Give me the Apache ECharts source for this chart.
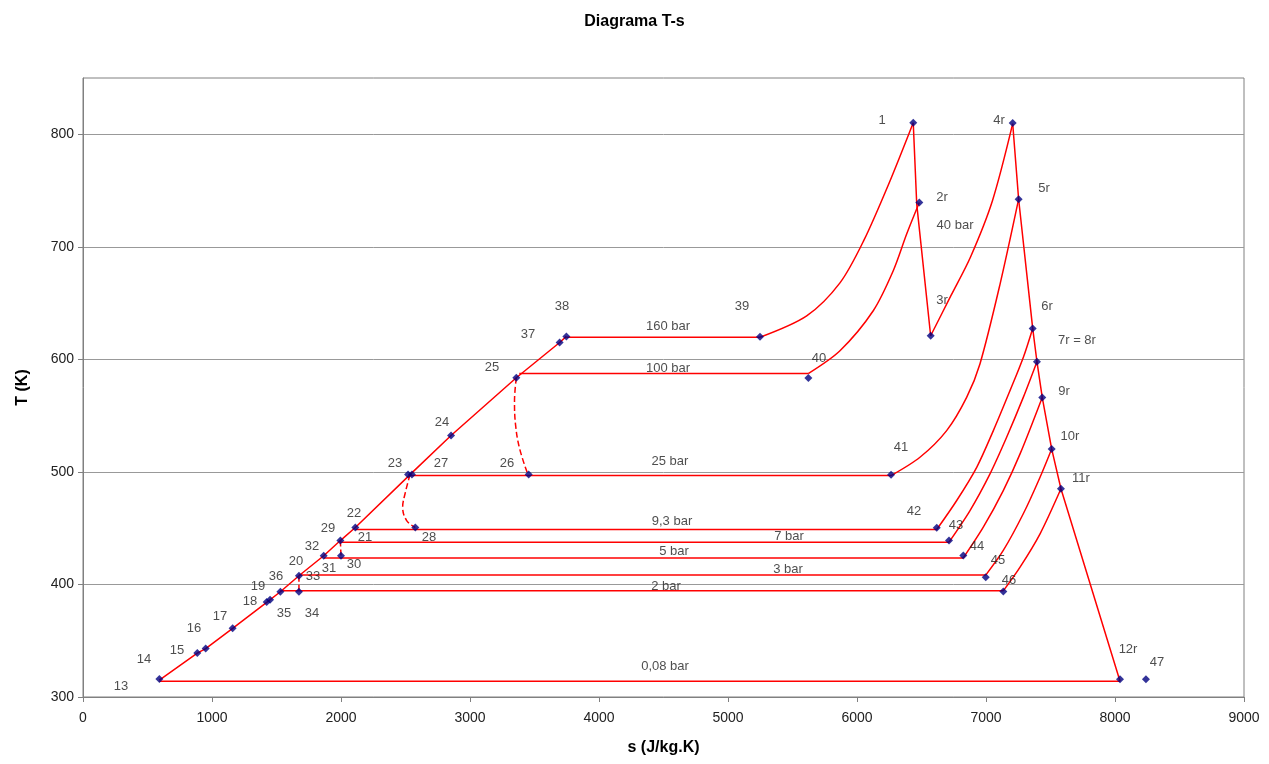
<!DOCTYPE html>
<html>
<head>
<meta charset="utf-8">
<script src="https://cdn.jsdelivr.net/npm/echarts@6/dist/echarts.min.js"></script>
<style>
html,body{margin:0;padding:0;background:#fff;}
#chart{width:1269px;height:764px;}
</style>
</head>
<body>
<div id="chart"></div>
<script>
// ---- Data (s in J/kg.K, T in K) ----
const xTicks = [0,1000,2000,3000,4000,5000,6000,7000,8000,9000];
const yTicks = [300,400,500,600,700,800];

// saturated / compressed liquid line 13 -> 38
const liquidLine = [[592,315],[886,339],[951,343],[1160,361],[1424,384],[1530,393.5],[1674,407.7],[1866,425.5],[1995,439],[2111,450.6],[2535,497.6],[2853,532.3],[3359,583.7],[3695,615],[3747,620.4]];

// isobars (horizontal parts)
const bar160 = [[3747,619.7],[5248,619.7]];
const bar100 = [[3382,587.4],[5622,587.4]];
const bar25 = [[2535,496.7],[6264,496.7]];
const bar9_3 = [[2111,448.8],[6618,448.8]];
const bar7 = [[1995,437.6],[6713,437.6]];
const bar5 = [[1866,423.6],[6824,423.6]];
const bar3 = [[1674,408.3],[6998,408.3]];
const bar2 = [[1530,394.3],[7134,394.3]];
const bar008 = [[592,314],[8039,314]];

// superheating curves
const curve39to1 = [[5248,619.7],[5610,638.7],[5868,668],[6050,705],[6250,757],[6436,810.3]];
const curve40to2r = [[5622,587.4],[5868,607.7],[6126,643.2],[6281,678.7],[6385,711.3],[6483,739.3]];
const curve3rto4r = [[6571,621],[6730,657],[6880,691],[7050,741],[7207,809.4]];
const curve41to5r = [[6264,496.7],[6488,513],[6695,536.7],[6850,566.2],[6953,595.9],[7109,666.9],[7253,742.3]];
const curve42to6r = [[6618,448.8],[6773,474.6],[6928,504.1],[7057,536.7],[7186,572.2],[7289,601.7],[7362,627.5]];
const curve43to7r = [[6713,437.6],[6876,465.7],[7031,498.3],[7160,530.8],[7289,566.2],[7395,597.9]];
const curve44to9r = [[6824,423.6],[6979,450.9],[7134,483.4],[7264,516],[7436,566.2]];
const curve45to10r = [[6998,408.3],[7134,430.2],[7289,462.8],[7419,495.3],[7509,520.4]];
const curve46to11r = [[7134,394.3],[7264,415.4],[7419,445],[7581,485]];

// expansion lines
const expansionHP = [[6436,810.3],[6463,738],[6571,621]];
const expansionLP = [[7207,809.4],[7253,742.3],[7362,627.5],[7395,597.9],[7436,566.2],[7509,520.4],[7581,485],[8039,314]];

// dashed connections
const dash25to26 = [[3359,583.5],[3345,563],[3353,542],[3384,521],[3449,497.6]];
const dash23to28 = [[2535,497.6],[2496,480.4],[2478,468.6],[2509,456.8],[2576,450.6]];
const dash29to30 = [[1995,439],[2000,425.5]];
const dash33to34 = [[1674,407.7],[1674,393.5]];

// state points (markers)
const statePoints = [[6436,810.3],[7207,810],[6483,739.3],[7253,742.3],[6571,621],[7362,627.5],[7395,597.9],[7436,566.2],[7509,520.4],[7581,485],[8039,315.7],[8240,315.7],[6264,497.5],[6618,450.3],[6713,439.1],[6824,425.8],[6998,406.5],[7134,393.8],[5248,620.1],[5623,583.5],[3747,620.4],[3695,615],[3359,583.7],[2853,532.3],[2520,497.6],[2550,497.6],[3455,497.6],[2111,450.6],[2576,450.6],[1995,439],[2000,425.5],[1866,425.5],[1674,407.7],[1674,393.5],[1530,393.5],[1424,384.3],[1450,386.4],[1160,361],[951,343],[886,339],[592,315.9]];

// text labels [s, T, text]
const pointLabels = [
  [6194,812.7,'1'],[7101,812.7,'4r'],[6659,743.5,'2r'],[6760,718.6,'40 bar'],[7450,752.3,'5r'],
  [6659,652.1,'3r'],[7473,646.7,'6r'],[7705,616.5,'7r = 8r'],[7605,571.3,'9r'],[7650,531.4,'10r'],
  [7735,494.1,'11r'],[8101,342.4,'12r'],[8326,330.9,'47'],[6341,522,'41'],[6442,465.2,'42'],
  [6767,452.8,'43'],[6930,434,'44'],[7093,421,'45'],[7178,403.9,'46'],[5109,646.7,'39'],
  [5705,600.6,'40'],[4535,629,'160 bar'],[4535,592,'100 bar'],[4550,509,'25 bar'],[4566,455.7,'9,3 bar'],
  [5473,442.4,'7 bar'],[4581,429,'5 bar'],[5465,413,'3 bar'],[4519,398,'2 bar'],[4512,327,'0,08 bar'],
  [3713,646.7,'38'],[3450,621.9,'37'],[3171,592.5,'25'],[2783,543.7,'24'],[2419,507.3,'23'],
  [2775,507.3,'27'],[3287,507.3,'26'],[2101,462.9,'22'],[1899,449.6,'29'],[2186,441.6,'21'],
  [2682,441.6,'28'],[1775,434,'32'],[2101,418.1,'30'],[1651,420.8,'20'],[1907,414,'31'],
  [1496,407.3,'36'],[1783,407.3,'33'],[1357,398.4,'19'],[1295,385,'18'],[1558,374.4,'35'],
  [1775,374.4,'34'],[1062,371.7,'17'],[860,361,'16'],[729,341.5,'15'],[473,333.5,'14'],[295,309.5,'13']
];

// ---- Chart ----
const RED = '#ff0000';
const FONT = "'Liberation Sans', Arial, sans-serif";
function lineSeries(data, opts) {
  opts = opts || {};
  return {
    type: 'line', data: data, symbol: 'none', showSymbol: false,
    smooth: opts.smooth || false,
    lineStyle: { color: RED, width: 1.5, type: opts.dashed ? 'dashed' : 'solid' },
    z: 2, silent: true
  };
}
const S = 0.3;
const series = [
  lineSeries(liquidLine),
  lineSeries(bar160), lineSeries(bar100), lineSeries(bar25), lineSeries(bar9_3),
  lineSeries(bar7), lineSeries(bar5), lineSeries(bar3), lineSeries(bar2), lineSeries(bar008),
  lineSeries(curve39to1, {smooth: S}), lineSeries(curve40to2r, {smooth: S}),
  lineSeries(curve3rto4r, {smooth: S}), lineSeries(curve41to5r, {smooth: S}),
  lineSeries(curve42to6r, {smooth: S}), lineSeries(curve43to7r, {smooth: S}),
  lineSeries(curve44to9r, {smooth: S}), lineSeries(curve45to10r, {smooth: S}),
  lineSeries(curve46to11r, {smooth: S}),
  lineSeries(expansionHP), lineSeries(expansionLP),
  lineSeries(dash25to26, {smooth: 0.4, dashed: true}), lineSeries(dash23to28, {smooth: 0.4, dashed: true}),
  lineSeries(dash29to30, {dashed: true}), lineSeries(dash33to34, {dashed: true}),
  {
    type: 'scatter', data: statePoints, symbol: 'diamond', symbolSize: 8,
    itemStyle: { color: '#000080' }, z: 5, silent: true
  },
  {
    type: 'scatter',
    data: pointLabels.map(d => ({ value: [d[0], d[1]], name: d[2] })),
    symbolSize: 1, itemStyle: { color: 'rgba(0,0,0,0)' }, z: 6, silent: true,
    label: {
      show: true, position: 'inside', formatter: p => p.name,
      color: '#222', fontSize: 13, fontFamily: FONT
    }
  }
];

const chart = echarts.init(document.getElementById('chart'), null, { renderer: 'canvas' });
chart.setOption({
  animation: false,
  backgroundColor: '#ffffff',
  title: {
    text: 'Diagrama T-s', left: 'center', top: 9,
    textStyle: { fontSize: 16, fontWeight: 'bold', color: '#000', fontFamily: FONT }
  },
  grid: { left: 83, right: 25, top: 78, bottom: 67, show: true, borderColor: '#808080', borderWidth: 1 },
  xAxis: {
    type: 'value', min: xTicks[0], max: xTicks[xTicks.length - 1], interval: 1000,
    name: 's (J/kg.K)', nameLocation: 'middle', nameGap: 43,
    nameTextStyle: { fontSize: 16, fontWeight: 'bold', color: '#000', fontFamily: FONT },
    axisLine: { show: true, lineStyle: { color: '#808080', width: 1 } },
    axisTick: { show: true, inside: false, length: 5, lineStyle: { color: '#808080' } },
    axisLabel: { fontSize: 14, color: '#222', margin: 14, fontFamily: FONT, formatter: v => String(v) },
    splitLine: { show: false }
  },
  yAxis: {
    type: 'value', min: yTicks[0], max: 850, interval: 100,
    name: 'T (K)', nameLocation: 'middle', nameGap: 52, nameRotate: 90,
    nameTextStyle: { fontSize: 16, fontWeight: 'bold', color: '#000', fontFamily: FONT },
    axisLine: { show: true, lineStyle: { color: '#808080', width: 1 } },
    axisTick: { show: true, inside: false, length: 5, lineStyle: { color: '#808080' }, customValues: yTicks },
    axisLabel: {
      fontSize: 14, color: '#222', margin: 9, fontFamily: FONT, customValues: yTicks,
      formatter: v => (yTicks.indexOf(v) >= 0 ? String(v) : '')
    },
    splitLine: { show: true, lineStyle: { color: '#999999', width: 1 } }
  },
  series: series
});
</script>
</body>
</html>
